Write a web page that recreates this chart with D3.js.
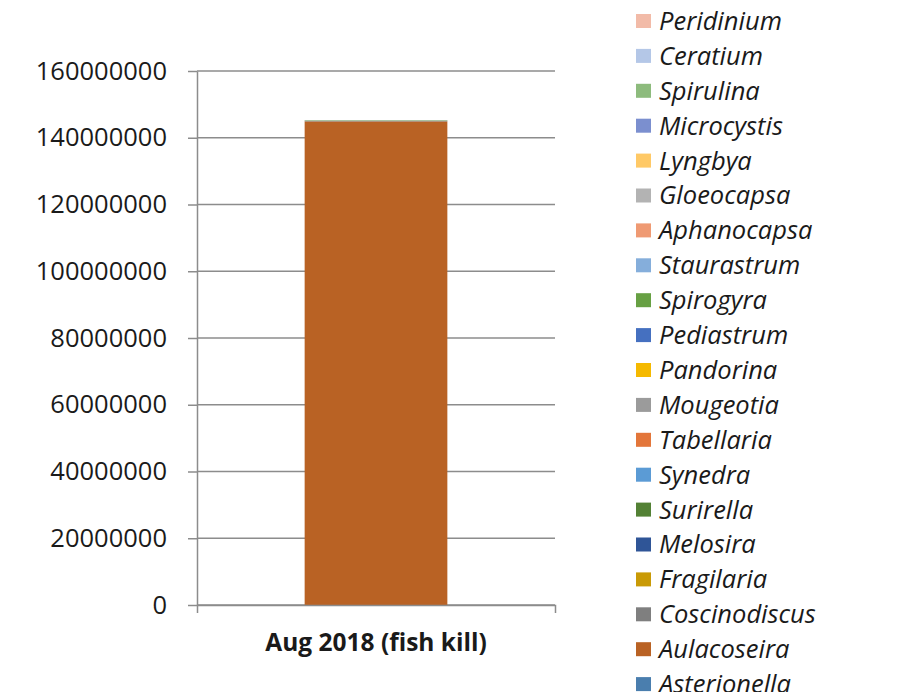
<!DOCTYPE html>
<html>
<head>
<meta charset="utf-8">
<script src="https://cdn.jsdelivr.net/npm/d3@7"></script>
<style>
  html, body { margin: 0; padding: 0; background: #fff; }
  svg { display: block; }
</style>
</head>
<body>
<svg id="chart" width="923" height="692"></svg>
<script>
// Phytoplankton counts for the August 2018 fish-kill sample
const categories = ["Aug 2018 (fish kill)"];

// Series in stacking order (bottom of the column first)
const species = [
  "Asterionella", "Aulacoseira", "Coscinodiscus", "Fragilaria", "Melosira",
  "Surirella", "Synedra", "Tabellaria", "Mougeotia", "Pandorina",
  "Pediastrum", "Spirogyra", "Staurastrum", "Aphanocapsa", "Gloeocapsa",
  "Lyngbya", "Microcystis", "Spirulina", "Ceratium", "Peridinium"
];

const counts = [
  0, 144900000, 250000, 0, 0,
  0, 0, 0, 0, 0,
  0, 0, 0, 0, 0,
  0, 0, 150000, 0, 0
];

const colors = [
  "#4a7eae", "#b96224", "#7f7f7f", "#c99a06", "#2f5597",
  "#538135", "#5b9bd5", "#e3763a", "#9b9b9b", "#f5b900",
  "#4570c0", "#67a043", "#85aedb", "#ef9a73", "#b3b3b3",
  "#ffc966", "#7b8fcf", "#8dbb7d", "#b4c7e7", "#f2bba8"
];

const yTicks = [0, 20000000, 40000000, 60000000, 80000000, 100000000, 120000000, 140000000, 160000000];

const svg = d3.select("#chart");

const plot = { left: 197, right: 555, top: 71, bottom: 605 };

const x = d3.scaleBand()
  .domain(categories)
  .range([plot.left, plot.right])
  .padding(0.43);

const y = d3.scaleLinear()
  .domain([0, 160000000])
  .range([plot.bottom, plot.top]);

// Gridlines
svg.append("g")
  .selectAll("line")
  .data(yTicks)
  .join("line")
  .attr("x1", plot.left)
  .attr("x2", plot.right)
  .attr("y1", d => y(d))
  .attr("y2", d => y(d))
  .attr("stroke", "#8c8c8c")
  .attr("stroke-width", 1.5);

// Stacked column
const row = { cat: categories[0] };
species.forEach((s, i) => { row[s] = counts[i]; });
const stacked = d3.stack().keys(species)([row]);

svg.append("g")
  .selectAll("rect")
  .data(stacked.filter(s => s[0][1] > s[0][0]))
  .join("rect")
  .attr("x", x(categories[0]))
  .attr("width", x.bandwidth())
  .attr("y", d => y(d[0][1]))
  .attr("height", d => y(d[0][0]) - y(d[0][1]))
  .attr("fill", d => colors[species.indexOf(d.key)]);

// Y axis
const yAxis = svg.append("g")
  .attr("transform", `translate(${plot.left},0)`)
  .call(d3.axisLeft(y).tickValues(yTicks).tickFormat(d3.format("d")).tickSize(9).tickSizeOuter(0));
yAxis.select(".domain").attr("stroke", "#8c8c8c").attr("stroke-width", 1.5);
yAxis.selectAll(".tick line").attr("stroke", "#8c8c8c").attr("stroke-width", 1.5);
yAxis.selectAll(".tick text")
  .attr("x", -30)
  .attr("font-family", "'Open Sans', sans-serif")
  .attr("font-size", 25.5)
  .attr("fill", "#1a1a1a");

// X axis
const xAxis = svg.append("g")
  .attr("transform", `translate(0,${plot.bottom})`)
  .call(d3.axisBottom(x).tickSize(0).tickSizeOuter(8));
xAxis.select(".domain").attr("stroke", "#8c8c8c").attr("stroke-width", 1.5);
xAxis.selectAll(".tick text")
  .attr("y", 29)
  .attr("font-family", "'Open Sans', sans-serif")
  .attr("font-weight", "bold")
  .attr("font-size", 24.5)
  .attr("fill", "#1a1a1a");

// Legend (top of stack listed first)
const legendOrder = species.slice().reverse();
const legend = svg.append("g").attr("transform", "translate(636,21)");
const item = legend.selectAll("g")
  .data(legendOrder)
  .join("g")
  .attr("transform", (d, i) => `translate(0,${i * 34.9})`);
item.append("rect")
  .attr("x", 0)
  .attr("y", -7)
  .attr("width", 15)
  .attr("height", 14)
  .attr("fill", d => colors[species.indexOf(d)]);
item.append("text")
  .attr("x", 23)
  .attr("y", 0)
  .attr("dy", "0.35em")
  .attr("font-family", "'Open Sans', sans-serif")
  .attr("font-style", "italic")
  .attr("font-size", 25.5)
  .attr("fill", "#1a1a1a")
  .text(d => d);
</script>
</body>
</html>
